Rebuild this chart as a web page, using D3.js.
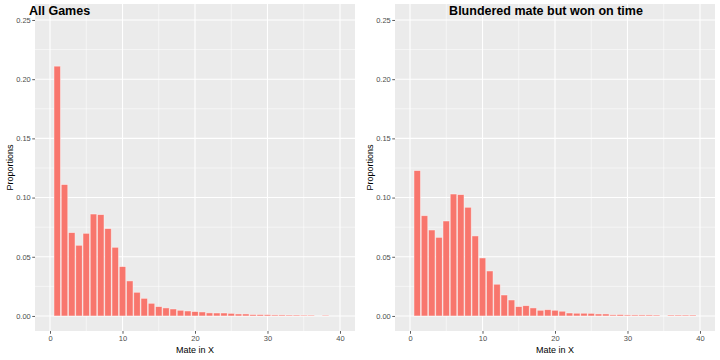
<!DOCTYPE html>
<html>
<head>
<meta charset="utf-8">
<script src="https://cdn.jsdelivr.net/npm/d3@7"></script>
<style>
  html, body { margin: 0; padding: 0; background: #ffffff; }
  svg { display: block; font-family: "Liberation Sans", Arial, sans-serif; }
</style>
</head>
<body>
<svg id="chart" width="720" height="360"></svg>
<script>
// ---- Data ----
const mateInX = d3.range(1, 40); // 1..39
const allGames = [
  0.211, 0.111, 0.0704, 0.0597, 0.0698, 0.0861, 0.0856, 0.0738, 0.058, 0.0417,
  0.0296, 0.0200, 0.0149, 0.0107, 0.0079, 0.0068, 0.0059, 0.0048, 0.0042, 0.0037,
  0.0034, 0.0026, 0.0025, 0.0025, 0.0022, 0.0017, 0.0017, 0.0012, 0.0012, 0.0011,
  0.0009, 0.0009, 0.0008, 0.0008, 0.0007, 0.0007, null, 0.0006, null
];
const blunderedWonOnTime = [
  0.1228, 0.0847, 0.0726, 0.0664, 0.0802, 0.103, 0.1025, 0.0918, 0.0676, 0.049,
  0.038, 0.0268, 0.0177, 0.0135, 0.0079, 0.0087, 0.0068, 0.0048, 0.0053, 0.0048,
  0.004, 0.0025, 0.0023, 0.0023, 0.0022, 0.0017, 0.0017, 0.0010, 0.0012, 0.0009,
  0.0009, 0.0009, 0.0009, 0.0008, null, 0.0008, 0.0008, 0.0008, 0.0008
];
const yTicks = [0, 0.05, 0.10, 0.15, 0.20, 0.25];
const yMinor = [0.025, 0.075, 0.125, 0.175, 0.225];
const xTicks = [0, 10, 20, 30, 40];
const xMinor = [5, 15, 25, 35];
const titles = ["All Games", "Blundered mate but won on time"];
const xTitle = "Mate in X";
const yTitle = "Proportions";

// ---- Drawing ----
const svg = d3.select("#chart");
const panelW = 320, panelH = 327, panelTop = 4;

function drawPanel(offsetX, values, title, titleAnchor, titleX) {
  const g = svg.append("g").attr("transform", `translate(${offsetX},0)`);
  const px = 35; // panel left within block
  const x = d3.scaleLinear().domain([-2.07, 42.07]).range([px, px + panelW]);
  const y = d3.scaleLinear().domain([-0.0127, 0.2635]).range([panelTop + panelH, panelTop]);

  g.append("rect")
    .attr("x", px).attr("y", panelTop)
    .attr("width", panelW).attr("height", panelH)
    .attr("fill", "#EBEBEB");

  // minor grid
  g.selectAll(".ymin").data(yMinor).join("line")
    .attr("class", "ymin")
    .attr("x1", px).attr("x2", px + panelW)
    .attr("y1", d => y(d)).attr("y2", d => y(d))
    .attr("stroke", "#ffffff").attr("stroke-width", 0.55);
  g.selectAll(".xmin").data(xMinor).join("line")
    .attr("class", "xmin")
    .attr("y1", panelTop).attr("y2", panelTop + panelH)
    .attr("x1", d => x(d)).attr("x2", d => x(d))
    .attr("stroke", "#ffffff").attr("stroke-width", 0.55);
  // major grid
  g.selectAll(".ymaj").data(yTicks).join("line")
    .attr("class", "ymaj")
    .attr("x1", px).attr("x2", px + panelW)
    .attr("y1", d => y(d)).attr("y2", d => y(d))
    .attr("stroke", "#ffffff").attr("stroke-width", 1.1);
  g.selectAll(".xmaj").data(xTicks).join("line")
    .attr("class", "xmaj")
    .attr("y1", panelTop).attr("y2", panelTop + panelH)
    .attr("x1", d => x(d)).attr("x2", d => x(d))
    .attr("stroke", "#ffffff").attr("stroke-width", 1.1);

  // bars
  const data = mateInX.map((m, i) => ({ m, v: values[i] })).filter(d => d.v != null);
  const bw = (x(1) - x(0)) * 0.9;
  g.selectAll(".bar").data(data).join("rect")
    .attr("class", "bar")
    .attr("x", d => x(d.m) - bw / 2)
    .attr("width", bw)
    .attr("y", d => y(d.v))
    .attr("height", d => y(0) - y(d.v))
    .attr("fill", "#F8766D")
    .attr("stroke", "#ffffff")
    .attr("stroke-opacity", 0.55)
    .attr("stroke-width", 0.8);

  // y axis
  const yAxis = d3.axisLeft(y).tickValues(yTicks).tickFormat(d3.format(".2f"))
    .tickSize(2.75).tickPadding(1.5);
  const ya = g.append("g").attr("transform", `translate(${px},0)`).call(yAxis);
  ya.select(".domain").remove();
  ya.selectAll("line").attr("stroke", "#333333").attr("stroke-width", 0.8);
  ya.selectAll("text").attr("fill", "#4D4D4D").attr("font-size", 7.5)
    .attr("font-family", "Liberation Sans, Arial, sans-serif");

  // x axis
  const xAxis = d3.axisBottom(x).tickValues(xTicks).tickFormat(d3.format("d"))
    .tickSize(2.75).tickPadding(1.5);
  const xa = g.append("g").attr("transform", `translate(0,${panelTop + panelH})`).call(xAxis);
  xa.select(".domain").remove();
  xa.selectAll("line").attr("stroke", "#333333").attr("stroke-width", 0.8);
  xa.selectAll("text").attr("fill", "#4D4D4D").attr("font-size", 7.5)
    .attr("font-family", "Liberation Sans, Arial, sans-serif");

  // axis titles
  g.append("text")
    .attr("x", px + panelW / 2).attr("y", 353)
    .attr("text-anchor", "middle")
    .attr("font-size", 9).attr("fill", "#000")
    .text(xTitle);
  g.append("text")
    .attr("transform", `translate(13,${panelTop + panelH / 2}) rotate(-90)`)
    .attr("text-anchor", "middle")
    .attr("font-size", 9).attr("fill", "#000")
    .text(yTitle);

  // title
  g.append("text")
    .attr("x", titleX).attr("y", 15)
    .attr("text-anchor", titleAnchor)
    .attr("font-size", 12.5).attr("font-weight", "bold").attr("fill", "#000")
    .text(title);
}

drawPanel(0, allGames, titles[0], "start", 29);
drawPanel(360, blunderedWonOnTime, titles[1], "middle", 186);
</script>
</body>
</html>
